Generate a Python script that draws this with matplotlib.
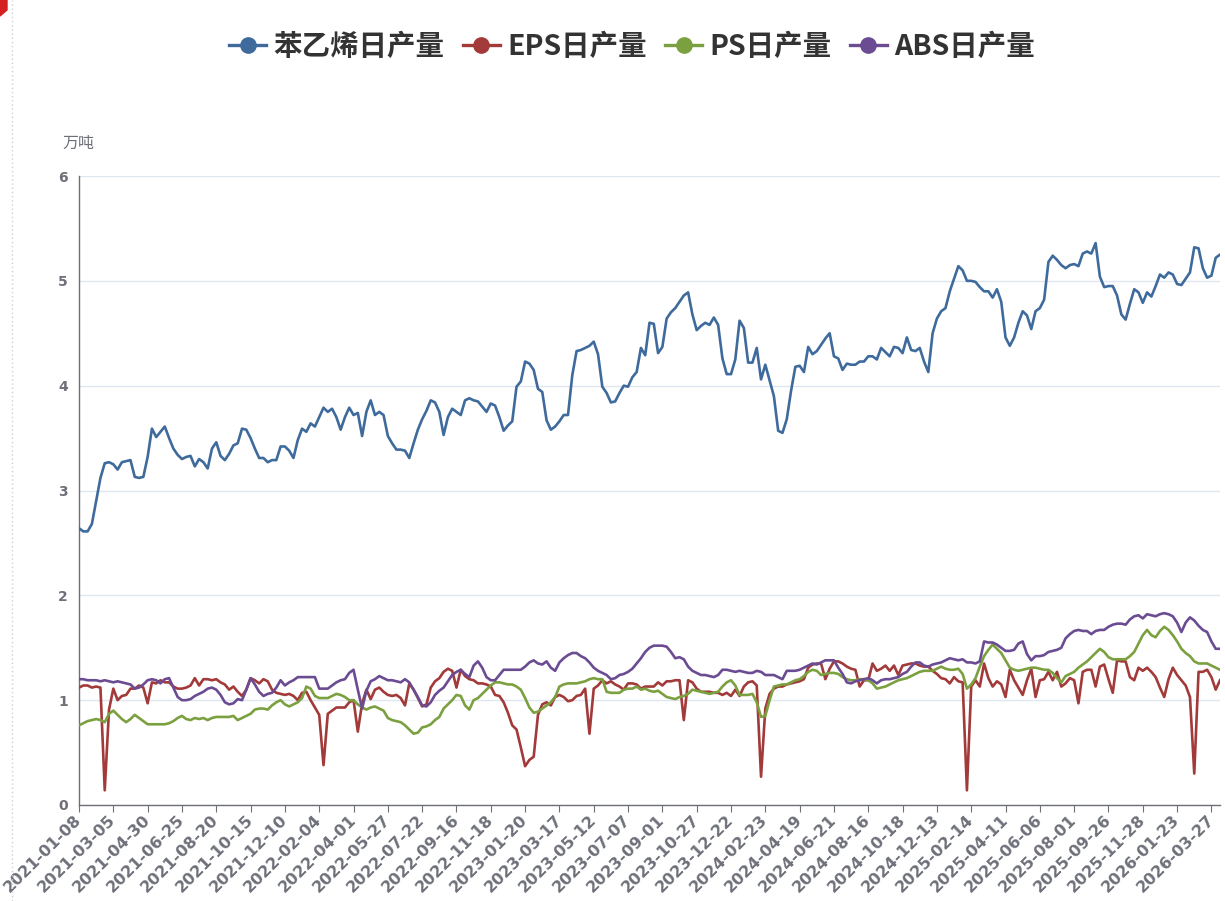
import matplotlib
matplotlib.use('Agg')
import matplotlib.pyplot as plt
from matplotlib.lines import Line2D
from matplotlib.patches import Polygon
import numpy as np

plt.rcParams['font.family'] = ['Noto Sans CJK SC', 'DejaVu Sans']

series_names = ['苯乙烯日产量', 'EPS日产量', 'PS日产量', 'ABS日产量']
unit_label = '万吨'

tick_labels = ['2021-01-08', '2021-03-05', '2021-04-30', '2021-06-25', '2021-08-20', '2021-10-15',
               '2021-12-10', '2022-02-04', '2022-04-01', '2022-05-27', '2022-07-22', '2022-09-16',
               '2022-11-18', '2023-01-20', '2023-03-17', '2023-05-12', '2023-07-07', '2023-09-01',
               '2023-10-27', '2023-12-22', '2024-02-23', '2024-04-19', '2024-06-21', '2024-08-16',
               '2024-10-18', '2024-12-13', '2025-02-14', '2025-04-11', '2025-06-06', '2025-08-01',
               '2025-09-26', '2025-11-28', '2026-01-23', '2026-03-27']
label_step = 8

styrene = [2.64, 2.61, 2.61, 2.68, 2.90, 3.12, 3.26, 3.27, 3.25, 3.20,
           3.27, 3.28, 3.29, 3.13, 3.12, 3.13, 3.32, 3.59, 3.51, 3.56,
           3.61, 3.50, 3.40, 3.34, 3.30, 3.32, 3.33, 3.23, 3.30, 3.27,
           3.21, 3.40, 3.46, 3.33, 3.29, 3.35, 3.43, 3.45, 3.59, 3.58,
           3.50, 3.40, 3.31, 3.31, 3.27, 3.29, 3.29, 3.42, 3.42, 3.38,
           3.31, 3.48, 3.59, 3.56, 3.64, 3.61, 3.70, 3.79, 3.75, 3.78,
           3.70, 3.58, 3.70, 3.79, 3.72, 3.74, 3.52, 3.75, 3.86, 3.72,
           3.75, 3.72, 3.52, 3.45, 3.39, 3.39, 3.38, 3.31, 3.45, 3.58,
           3.68, 3.76, 3.86, 3.84, 3.75, 3.53, 3.70, 3.78, 3.75, 3.72,
           3.86, 3.88, 3.86, 3.85, 3.80, 3.75, 3.83, 3.81, 3.70, 3.57,
           3.62, 3.66, 3.99, 4.04, 4.23, 4.21, 4.15, 3.97, 3.94, 3.67,
           3.58, 3.61, 3.66, 3.72, 3.72, 4.10, 4.33, 4.34, 4.36, 4.38,
           4.42, 4.30, 3.99, 3.93, 3.84, 3.85, 3.93, 4.00, 3.99, 4.08,
           4.13, 4.36, 4.29, 4.60, 4.59, 4.31, 4.37, 4.64, 4.70, 4.74,
           4.80, 4.86, 4.89, 4.68, 4.53, 4.57, 4.60, 4.58, 4.65, 4.58,
           4.26, 4.11, 4.11, 4.25, 4.62, 4.55, 4.22, 4.22, 4.36, 4.06,
           4.20, 4.05, 3.90, 3.57, 3.55, 3.68, 3.95, 4.18, 4.19, 4.13,
           4.37, 4.30, 4.33, 4.39, 4.45, 4.50, 4.28, 4.26, 4.15, 4.21,
           4.20, 4.20, 4.23, 4.23, 4.28, 4.28, 4.25, 4.36, 4.32, 4.28,
           4.37, 4.36, 4.31, 4.46, 4.34, 4.33, 4.36, 4.23, 4.13, 4.50,
           4.64, 4.71, 4.74, 4.90, 5.02, 5.14, 5.10, 5.00, 5.00, 4.99,
           4.94, 4.90, 4.90, 4.84, 4.92, 4.80, 4.46, 4.38, 4.46, 4.60,
           4.71, 4.67, 4.54, 4.71, 4.74, 4.82, 5.18, 5.24, 5.20, 5.15,
           5.12, 5.15, 5.16, 5.14, 5.26, 5.28, 5.26, 5.36, 5.04, 4.94,
           4.95, 4.95, 4.86, 4.68, 4.63, 4.78, 4.92, 4.89, 4.79, 4.89,
           4.85, 4.95, 5.06, 5.03, 5.08, 5.06, 4.97, 4.96, 5.02, 5.08,
           5.32, 5.31, 5.12, 5.03, 5.05, 5.22, 5.25]

eps = [1.12, 1.14, 1.14, 1.12, 1.13, 1.12, 0.14, 0.91, 1.11, 1.00,
       1.04, 1.05, 1.11, 1.11, 1.14, 1.12, 0.97, 1.17, 1.16, 1.19,
       1.17, 1.17, 1.13, 1.11, 1.11, 1.12, 1.14, 1.21, 1.14, 1.20,
       1.20, 1.19, 1.20, 1.17, 1.15, 1.10, 1.13, 1.08, 1.04, 1.10,
       1.21, 1.19, 1.16, 1.20, 1.18, 1.10, 1.07, 1.06, 1.05, 1.06,
       1.04, 1.00, 1.07, 1.08, 1.00, 0.93, 0.86, 0.38, 0.87, 0.90,
       0.93, 0.93, 0.93, 0.98, 1.00, 0.70, 0.97, 1.10, 1.01, 1.10,
       1.12, 1.08, 1.05, 1.04, 1.05, 1.02, 0.95, 1.16, 1.10, 1.02,
       0.94, 0.96, 1.12, 1.18, 1.21, 1.27, 1.30, 1.28, 1.12, 1.29,
       1.23, 1.20, 1.19, 1.16, 1.16, 1.15, 1.13, 1.05, 1.04, 0.98,
       0.88, 0.76, 0.72, 0.55, 0.37, 0.43, 0.46, 0.86, 0.96, 0.98,
       0.95, 1.03, 1.05, 1.03, 0.99, 1.00, 1.04, 1.05, 1.11, 0.68,
       1.11, 1.14, 1.19, 1.16, 1.18, 1.15, 1.13, 1.10, 1.16, 1.16,
       1.15, 1.11, 1.13, 1.13, 1.13, 1.17, 1.14, 1.18, 1.18, 1.19,
       1.19, 0.81, 1.19, 1.17, 1.11, 1.08, 1.08, 1.08, 1.07, 1.07,
       1.05, 1.07, 1.04, 1.10, 1.04, 1.13, 1.17, 1.18, 1.14, 0.27,
       0.92, 1.06, 1.11, 1.13, 1.13, 1.15, 1.16, 1.17, 1.18, 1.20,
       1.31, 1.34, 1.35, 1.35, 1.20, 1.30, 1.37, 1.37, 1.35, 1.32,
       1.30, 1.29, 1.13, 1.19, 1.19, 1.35, 1.28, 1.30, 1.33, 1.28,
       1.33, 1.24, 1.33, 1.34, 1.35, 1.35, 1.33, 1.32, 1.32, 1.28,
       1.25, 1.21, 1.20, 1.16, 1.22, 1.18, 1.17, 0.14, 1.13, 1.19,
       1.13, 1.35, 1.21, 1.13, 1.18, 1.15, 1.03, 1.29, 1.19, 1.12,
       1.05, 1.19, 1.30, 1.03, 1.19, 1.20, 1.27, 1.19, 1.27, 1.13,
       1.16, 1.21, 1.19, 0.97, 1.27, 1.29, 1.29, 1.13, 1.32, 1.34,
       1.20, 1.07, 1.38, 1.37, 1.37, 1.22, 1.19, 1.31, 1.28, 1.31,
       1.27, 1.22, 1.12, 1.03, 1.20, 1.31, 1.24, 1.19, 1.14, 1.03,
       0.30, 1.27, 1.27, 1.29, 1.22, 1.10, 1.19]

ps = [0.76, 0.78, 0.80, 0.81, 0.82, 0.81, 0.79, 0.87, 0.90, 0.86,
      0.82, 0.79, 0.82, 0.86, 0.83, 0.80, 0.77, 0.77, 0.77, 0.77,
      0.77, 0.78, 0.80, 0.83, 0.85, 0.82, 0.81, 0.83, 0.82, 0.83,
      0.81, 0.83, 0.84, 0.84, 0.84, 0.84, 0.85, 0.81, 0.83, 0.85,
      0.87, 0.91, 0.92, 0.92, 0.91, 0.95, 0.98, 1.00, 0.96, 0.94,
      0.96, 0.98, 1.02, 1.13, 1.11, 1.04, 1.02, 1.02, 1.02, 1.04,
      1.06, 1.05, 1.03, 1.00, 1.00, 0.96, 0.93, 0.91, 0.93, 0.94,
      0.92, 0.90, 0.83, 0.81, 0.80, 0.79, 0.76, 0.72, 0.68, 0.69,
      0.74, 0.75, 0.77, 0.81, 0.84, 0.92, 0.96, 1.00, 1.05, 1.04,
      0.95, 0.91, 1.00, 1.02, 1.06, 1.10, 1.14, 1.17, 1.17, 1.16,
      1.15, 1.15, 1.13, 1.10, 1.02, 0.93, 0.88, 0.89, 0.92, 0.95,
      0.98, 1.03, 1.13, 1.15, 1.16, 1.16, 1.16, 1.17, 1.18, 1.20,
      1.21, 1.20, 1.20, 1.08, 1.07, 1.07, 1.07, 1.10, 1.11, 1.11,
      1.13, 1.10, 1.11, 1.09, 1.08, 1.09, 1.06, 1.03, 1.02, 1.01,
      1.03, 1.04, 1.06, 1.10, 1.09, 1.08, 1.07, 1.06, 1.07, 1.08,
      1.13, 1.17, 1.19, 1.14, 1.05, 1.05, 1.05, 1.06, 0.98, 0.84,
      0.85, 1.00, 1.13, 1.14, 1.15, 1.15, 1.17, 1.19, 1.20, 1.23,
      1.27, 1.29, 1.28, 1.24, 1.25, 1.26, 1.26, 1.25, 1.22, 1.20,
      1.19, 1.19, 1.20, 1.20, 1.19, 1.16, 1.11, 1.12, 1.13, 1.15,
      1.17, 1.19, 1.20, 1.21, 1.23, 1.25, 1.27, 1.28, 1.28, 1.28,
      1.30, 1.32, 1.30, 1.29, 1.29, 1.30, 1.25, 1.11, 1.15, 1.21,
      1.32, 1.42, 1.48, 1.53, 1.49, 1.45, 1.38, 1.31, 1.29, 1.28,
      1.29, 1.30, 1.31, 1.31, 1.30, 1.29, 1.29, 1.26, 1.21, 1.17,
      1.23, 1.25, 1.27, 1.31, 1.34, 1.37, 1.41, 1.45, 1.49, 1.46,
      1.41, 1.39, 1.39, 1.39, 1.39, 1.42, 1.46, 1.54, 1.62, 1.67,
      1.62, 1.60, 1.66, 1.70, 1.67, 1.62, 1.56, 1.49, 1.45, 1.42,
      1.37, 1.35, 1.35, 1.35, 1.33, 1.31, 1.29]

abs_prod = [1.20, 1.20, 1.19, 1.19, 1.19, 1.18, 1.19, 1.18, 1.17, 1.18,
            1.17, 1.16, 1.15, 1.11, 1.12, 1.15, 1.19, 1.20, 1.19, 1.16,
            1.20, 1.21, 1.12, 1.03, 1.00, 1.00, 1.01, 1.04, 1.06, 1.08,
            1.11, 1.12, 1.10, 1.05, 0.98, 0.96, 0.97, 1.01, 1.00, 1.10,
            1.21, 1.15, 1.08, 1.04, 1.06, 1.07, 1.12, 1.19, 1.14, 1.17,
            1.19, 1.22, 1.22, 1.22, 1.22, 1.22, 1.11, 1.11, 1.11, 1.14,
            1.17, 1.19, 1.20, 1.26, 1.29, 1.10, 0.92, 1.09, 1.18, 1.20,
            1.23, 1.21, 1.19, 1.19, 1.18, 1.17, 1.20, 1.17, 1.10, 1.03,
            0.95, 0.94, 0.98, 1.05, 1.09, 1.12, 1.18, 1.24, 1.27, 1.29,
            1.25, 1.22, 1.33, 1.37, 1.31, 1.22, 1.19, 1.19, 1.24, 1.29,
            1.29, 1.29, 1.29, 1.29, 1.32, 1.36, 1.38, 1.35, 1.34, 1.37,
            1.31, 1.28, 1.36, 1.40, 1.43, 1.45, 1.45, 1.42, 1.40, 1.36,
            1.31, 1.28, 1.26, 1.24, 1.20, 1.21, 1.24, 1.25, 1.27, 1.30,
            1.35, 1.40, 1.46, 1.50, 1.52, 1.52, 1.52, 1.51, 1.46, 1.40,
            1.41, 1.39, 1.32, 1.28, 1.26, 1.24, 1.24, 1.23, 1.22, 1.24,
            1.29, 1.29, 1.28, 1.27, 1.28, 1.27, 1.26, 1.26, 1.28, 1.27,
            1.24, 1.24, 1.24, 1.22, 1.20, 1.28, 1.28, 1.28, 1.29, 1.31,
            1.33, 1.35, 1.34, 1.36, 1.38, 1.38, 1.38, 1.31, 1.25, 1.17,
            1.16, 1.18, 1.19, 1.20, 1.21, 1.19, 1.16, 1.19, 1.20, 1.20,
            1.21, 1.22, 1.25, 1.27, 1.32, 1.36, 1.36, 1.33, 1.32, 1.34,
            1.35, 1.36, 1.38, 1.40, 1.39, 1.38, 1.39, 1.36, 1.36, 1.35,
            1.37, 1.56, 1.55, 1.55, 1.53, 1.50, 1.47, 1.47, 1.48, 1.54,
            1.56, 1.44, 1.38, 1.42, 1.42, 1.43, 1.46, 1.47, 1.48, 1.50,
            1.59, 1.63, 1.66, 1.67, 1.66, 1.66, 1.63, 1.66, 1.67, 1.67,
            1.70, 1.72, 1.73, 1.73, 1.72, 1.77, 1.80, 1.81, 1.78, 1.82,
            1.81, 1.80, 1.82, 1.83, 1.82, 1.80, 1.74, 1.65, 1.74, 1.79,
            1.76, 1.71, 1.67, 1.65, 1.56, 1.49, 1.49]

colors = ['#3e6a9c', '#a23a3a', '#7ba03f', '#6b4c93']
all_series = [styrene, eps, ps, abs_prod]

W, H = 1225, 901
fig = plt.figure(figsize=(W / 100, H / 100), dpi=100)
fig.patch.set_facecolor('white')

n = min(len(s) for s in all_series)
x = np.arange(n)

left, right, top, bottom = 79, 1220, 176, 805
ax = fig.add_axes([left / W, 1 - bottom / H, (right - left) / W, (bottom - top) / H])

for s, c in zip(all_series, colors):
    ax.plot(x, s[:n], color=c, lw=1.9, solid_joinstyle='round', zorder=3)

ax.set_xlim(0, n - 1)
ax.set_ylim(0, 6)
ax.set_yticks(range(0, 7))
ax.grid(axis='y', color='#E0E6F1', lw=1.0, zorder=0)
ax.set_axisbelow(True)
for sp in ['top', 'right']:
    ax.spines[sp].set_visible(False)
for sp in ['left', 'bottom']:
    ax.spines[sp].set_color('#6E7079')
    ax.spines[sp].set_linewidth(1.0)

tick_pos = list(range(0, n, label_step))[:len(tick_labels)]
ax.set_xticks(tick_pos)
ax.set_xticklabels(tick_labels[:len(tick_pos)], rotation=45, ha='right', va='center',
                   rotation_mode='anchor', fontsize=11.5, fontweight='bold', color='#6E7079',
                   family=['DejaVu Sans'])
ax.tick_params(axis='x', length=5, color='#6E7079', pad=4)
ax.tick_params(axis='y', length=0, pad=8, labelsize=10, labelcolor='#6E7079')
for lab in ax.get_yticklabels():
    lab.set_fontweight('bold')
    lab.set_family(['DejaVu Sans'])

fig.text(62 / W, 1 - 143 / H, unit_label, ha='left', va='center', fontsize=11.5, color='#6E7079')

handles = [Line2D([0], [0], color=c, lw=2.4, marker='o', markersize=11,
                  markerfacecolor=c, markeredgecolor=c) for c in colors]
leg = fig.legend(handles, series_names, loc='center', bbox_to_anchor=(0.516, 1 - 47 / H), ncol=4,
                 frameon=False, handlelength=1.3, handletextpad=0.25, columnspacing=0.65,
                 prop={'family': ['Noto Sans CJK SC', 'DejaVu Sans'], 'weight': 'bold', 'size': 20.5})
for t in leg.get_texts():
    t.set_color('#333333')

# screenshot frame details
fig.add_artist(Line2D([12 / W, 12 / W], [0, 1], color='#D0D0D0', lw=1, ls=(0, (1, 2))))
fig.add_artist(Polygon([[0, 1], [7 / W, 1], [7 / W, 1 - 10 / H], [0, 1 - 16 / H]],
                       closed=True, color='#d42020', transform=fig.transFigure))

fig.savefig('out.png', dpi=100, facecolor='white')
